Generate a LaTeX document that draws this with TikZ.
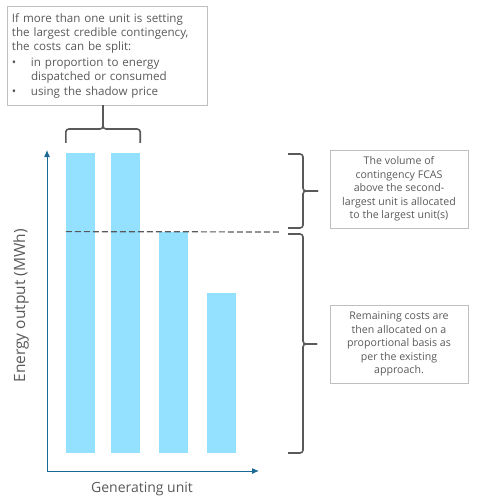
\documentclass[tikz,border=0pt]{standalone}
\usepackage{fontspec}
\setmainfont{Open Sans}
\usetikzlibrary{positioning,arrows.meta}
\definecolor{txtgrey}{HTML}{595959}
\definecolor{boxgrey}{HTML}{BFBFBF}
\definecolor{barblue}{HTML}{94E1FF}
\definecolor{axisblue}{HTML}{1B6A96}
\begin{document}
\begin{tikzpicture}[x=1pt, y=-1pt,
		every node/.style={text=txtgrey, font=\fontsize{10.6}{13.5}\selectfont},
		note/.style={draw=boxgrey, inner sep=0pt, minimum width=138pt, minimum height=78pt, align=center},
		bar/.style={fill=barblue, draw=none, inner sep=0pt, minimum width=29pt, anchor=south},
		axis/.style={draw=axisblue, line width=1pt, -{Latex[length=7pt,width=6pt]}},
		brace/.style={draw=txtgrey, line width=1.6pt, rounded corners=3pt},
		axislabel/.style={font=\fontsize{14}{17}\selectfont}
		]
		\useasboundingbox (0,0) rectangle (477,497);
		\node[draw=boxgrey, inner sep=0pt, minimum width=200pt, minimum height=99pt, text width=190pt, align=left,
			font=\fontsize{11.6}{14.4}\selectfont] (split) at (107,55.5) {If more than one unit is setting\\
			the largest credible contingency,\\
			the costs can be split:\\[1pt]
			\makebox[19pt][l]{\textbullet}in proportion to energy\\
			\makebox[19pt][l]{}dispatched or consumed\\
			\makebox[19pt][l]{\textbullet}using the shadow price};
		\node[bar, minimum height=300pt] (u1) at (80.5,453) {};
		\node[bar, minimum height=300pt] (u2) at (125.5,453) {};
		\node[bar, minimum height=221pt] (u3) at (173.5,453) {};
		\node[bar, minimum height=160pt] (u4) at (221.5,453) {};
		\coordinate (origin) at (47,471);
		\draw[axis] (origin) -- (47,150);
		\draw[axis] (origin) -- (259,471);
		\node[axislabel, rotate=90, font=\fontsize{15.5}{18}\selectfont] (ylab) at (21,306) {Energy output (MWh)};
		\node[axislabel] (xlab) at (142,489) {Generating unit};
		\draw[txtgrey, line width=1.2pt, dash pattern=on 6pt off 3pt] (u1.west |- u3.north) -- (279,232);
		\draw[brace] (u1.west |- 143,143) |- (103,129) -- (split.south -| 103,113);
		\draw[brace] (103,113) -- (103,129) -| (u2.east |- 143,143);
		\draw[brace] (288,154) -| (303,191) -- (318,191);
		\draw[brace] (318,191) -- (303,191) |- (288,228);
		\draw[brace] (288,234) -| (303,344) -- (317,344);
		\draw[brace] (317,344) -- (303,344) |- (288,453);
		\node[note] (largest) at (399,189) {The volume of\\
			contingency FCAS\\
			above the second-\\
			largest unit is allocated\\
			to the largest unit(s)};
		\node[note] (remaining) at (399,344) {Remaining costs are\\
			then allocated on a\\
			proportional basis as\\
			per the existing\\
			approach.};
\end{tikzpicture}
\end{document}
